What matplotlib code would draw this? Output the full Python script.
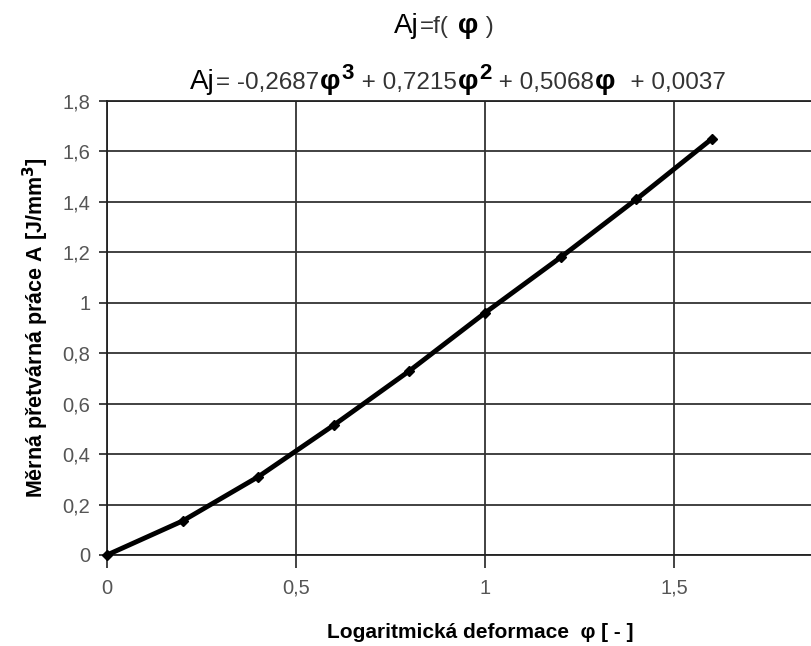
import matplotlib
matplotlib.use("Agg")
import matplotlib.pyplot as plt
import numpy as np

# data
phi = [0.0, 0.2, 0.4, 0.6, 0.8, 1.0, 1.2, 1.4, 1.6]
prace = [0.0, 0.135, 0.31, 0.515, 0.73, 0.96, 1.18, 1.41, 1.65]

y_ticks = [0, 0.2, 0.4, 0.6, 0.8, 1.0, 1.2, 1.4, 1.6, 1.8]
y_labels = ["0", "0,2", "0,4", "0,6", "0,8", "1", "1,2", "1,4", "1,6", "1,8"]
x_ticks = [0, 0.5, 1.0, 1.5]
x_labels = ["0", "0,5", "1", "1,5"]

plt.rcParams['font.family'] = ['Liberation Sans', 'DejaVu Sans']

fig = plt.figure(figsize=(8.12, 6.46), dpi=100)
# plot area runs past the right border of the picture (as in the original crop)
ax = fig.add_axes([107/812, 91/646, 756/812, 454/646])
ax.set_xlim(0, 2.0)
ax.set_ylim(0, 1.8)

ax.plot(phi, prace, color='black', linewidth=3.5, marker='D', markersize=5,
        solid_capstyle='round', zorder=3, clip_on=False)

# mrizka
ax.set_xticks(x_ticks)
ax.set_xticklabels(x_labels)
ax.set_yticks(y_ticks)
ax.set_yticklabels(y_labels)
ax.grid(True, color='#333333', linewidth=1.3)
for s in ['left', 'bottom', 'top']:
    ax.spines[s].set_color('#222222')
    ax.spines[s].set_linewidth(1.3)
ax.spines['right'].set_visible(False)

ax.tick_params(axis='both', colors='#222222', width=1.2, labelcolor='#555555',
               labelsize=14.5)
ax.tick_params(axis='y', length=6, pad=6)
ax.tick_params(axis='x', length=9, pad=8)

ax.set_ylabel('Měrná přetvárná práce A [J/mm$^\\mathbf{3}$]', fontsize=15.5,
              fontweight='bold', labelpad=8)
fig.text(480/812, 1 - 633/646, 'Logaritmická deformace  φ [ - ]', fontsize=15,
         fontweight='bold', ha='center', va='center')


velke = dict(fontsize=20, color='black')
male = dict(fontsize=17.5, color='#333333')
fi = dict(fontsize=20.5, color='black', fontweight='bold')
mocnina = dict(fontsize=16, color='black', fontweight='bold')

fig.canvas.draw()
renderer = fig.canvas.get_renderer()


def napis(kusy, x, y):
    """Vypise kusy textu za sebou (kazdy svym stylem)."""
    for txt, kw, dy in kusy:
        t = fig.text(x, y + dy, txt, transform=None, va='baseline', **kw)
        x = t.get_window_extent(renderer).x1 + 1


napis([('Aj', velke, 0), ('=f(', male, 0), (' φ', fi, 0), (' )', male, 0)],
      394, 646 - 33)
napis([('Aj', velke, 0), ('= -0,2687', male, 0), ('φ', fi, 0),
       ('3', mocnina, 10), (' + 0,7215', male, 0), ('φ', fi, 0),
       ('2', mocnina, 10), (' + 0,5068', male, 0), ('φ', fi, 0),
       ('  + 0,0037', male, 0)], 190, 646 - 89)

fig.savefig('out.png', dpi=100)
